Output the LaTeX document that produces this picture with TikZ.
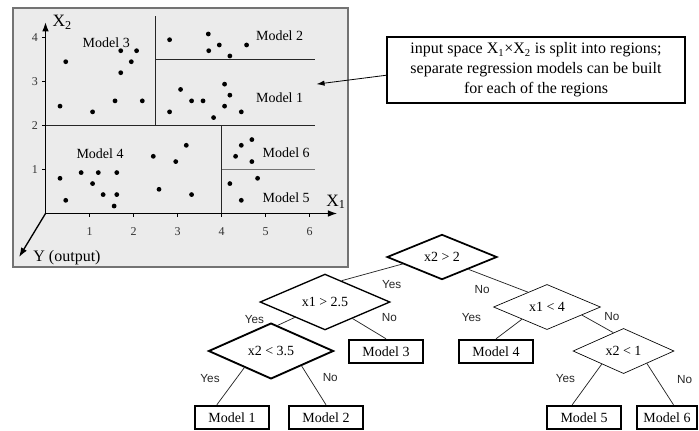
\documentclass[tikz,border=0pt]{standalone}
\usepackage{fontspec}
\setmainfont{Liberation Serif}
\newfontfamily\yesnofont{Liberation Sans}
\usetikzlibrary{
	arrows.meta,
	positioning,
	shapes.geometric
}

\begin{document}
\begin{tikzpicture}[
		x=0.75pt, y=-0.75pt,
		panel/.style={draw=black!55, line width=1pt, fill=black!8},
		axisarrow/.style={line width=1pt, -{Latex[length=7pt,width=5pt]}},
		cutline/.style={line width=0.7pt, black!85},
		plotdot/.style={fill=black},
		region/.style={font=\fontsize{10.5}{12}\selectfont},
		axtick/.style={font=\fontsize{9}{10}\selectfont, text=black!80, inner sep=1pt},
		axname/.style={font=\fontsize{13}{14}\selectfont, inner sep=0pt},
		notebox/.style={draw, line width=0.9pt, align=center, inner sep=0pt, minimum width=223.5pt, minimum height=49.5pt, font=\fontsize{12}{15}\selectfont},
		ask/.style={draw, diamond, inner sep=0pt, font=\fontsize{10.5}{12}\selectfont},
		leaf/.style={draw, line width=1.6pt, inner sep=0pt, minimum width=55pt, minimum height=17.5pt, font=\fontsize{10.5}{12}\selectfont},
		branch/.style={line width=0.55pt, black!85},
		lbl/.style={font=\yesnofont\fontsize{8.8}{10}\selectfont, inner sep=0pt}
		]
		\useasboundingbox (0,0) rectangle (699,430);
		
		% Input space panel
		\draw[panel] (13,8) rectangle (348,267);
		\begin{scope}[shift={(45.5,213.5)}, x=33pt, y=33pt]
			\coordinate (o) at (0,0);
			\coordinate (x1end) at (6.63,0);
			\coordinate (x2end) at (0,4.35);
			\coordinate (yend) at (-0.6,-0.99);
			\coordinate (m1pt) at (6.16,2.94);
			
			% region borders
			\draw[cutline] (0,2) -- (6.12,2);
			\draw[cutline] (2.5,2) -- (2.5,4.5);
			\draw[cutline] (2.5,3.5) -- (6.12,3.5);
			\draw[cutline] (4,0) -- (4,2);
			\draw[line width=0.5pt, black!55] (4,1) -- (6.12,1);
			
			% data points
			\foreach \p in {(0.46,3.45),(0.33,2.44),(1.07,2.31),(1.58,2.56),(2.20,2.56),(1.71,3.20),(1.71,3.70),(2.07,3.70),(1.95,3.45),
				(2.82,3.95),(3.70,4.08),(3.95,3.83),(3.71,3.70),(4.19,3.58),(4.57,3.83),
				(3.07,2.82),(3.32,2.56),(3.58,2.56),(4.07,2.94),(4.19,2.69),(4.07,2.44),(4.45,2.31),(2.82,2.31),(3.82,2.18),
				(0.33,0.80),(0.46,0.30),(0.81,0.93),(1.07,0.68),(1.20,0.93),(1.62,0.93),(1.31,0.43),(1.62,0.43),(1.56,0.17),
				(2.45,1.30),(2.96,1.18),(3.20,1.55),(2.58,0.55),(3.32,0.43),
				(4.45,1.55),(4.69,1.68),(4.32,1.30),(4.69,1.18),(4.19,0.68),(4.82,0.80),(4.45,0.30)}
			\fill[plotdot] \p circle (1.8pt);
			
			% axes
			\draw[axisarrow] (o) -- (x1end);
			\draw[axisarrow] (o) -- (x2end);
			\draw[axisarrow] (o) -- (yend);
			\foreach \i in {1,...,6} {
				\draw[line width=0.5pt] (\i,0) -- (\i,-0.07);
				\node[axtick] (tx\i) at (\i,-0.42) {\i};
			}
			\foreach \j in {1,...,4} {
				\draw[line width=0.5pt] (0,\j) -- (-0.07,\j);
				\node[axtick] (ty\j) at (-0.24,\j) {\j};
			}
			\node[axname] (x2name) at (0.38,4.35) {X\textsubscript{2}};
			\node[axname] (x1name) at (6.6,0.26) {X\textsubscript{1}};
			\node[axname, anchor=west, font=\fontsize{12}{13}\selectfont] (yname) at (-0.28,-1.01) {Y (output)};
			
			% region names
			\node[region] (reg3) at (1.38,3.88) {Model 3};
			\node[region] (reg2) at (5.32,4.05) {Model 2};
			\node[region] (reg1) at (5.32,2.64) {Model 1};
			\node[region] (reg4) at (1.24,1.36) {Model 4};
			\node[region] (reg6) at (5.47,1.38) {Model 6};
			\node[region] (reg5) at (5.47,0.36) {Model 5};
		\end{scope}
		
		% Comment box
		\node[notebox] (note) at (536,70) {
			input space X\textsubscript{1}×X\textsubscript{2} is split into regions;\\
			separate regression models can be built\\
			for each of the regions
		};
		\draw[line width=0.6pt, -{Latex[length=6pt,width=4pt]}] (note.182) -- (m1pt);
		
		% Regression tree
		\node[ask, line width=1.3pt, minimum width=82.5pt, minimum height=33pt] (root) at (442,257) {x2 > 2};
		\node[ask, line width=1pt, minimum width=97.5pt, minimum height=33pt, on grid, below left=33.75pt and 87.75pt of root] (c1) {x1 > 2.5};
		\node[ask, line width=1.4pt, minimum width=93.75pt, minimum height=33pt, on grid, below left=36.75pt and 40.5pt of c1] (c2) {x2 < 3.5};
		\node[leaf, on grid, below right=37.1pt and 45.75pt of c1] (m3) {Model 3};
		\node[leaf, on grid, below left=49.9pt and 29.25pt of c2] (m1) {Model 1};
		\node[leaf, on grid, below right=49.9pt and 41.25pt of c2] (m2) {Model 2};
		\node[ask, line width=0.5pt, minimum width=80.25pt, minimum height=32.25pt, on grid, below right=37.5pt and 78.75pt of root] (r1) {x1 < 4};
		\node[leaf, on grid, below left=33.4pt and 38.25pt of r1] (m4) {Model 4};
		\node[ask, line width=0.5pt, minimum width=75.75pt, minimum height=32.25pt, on grid, below right=33pt and 57.4pt of r1] (r2) {x2 < 1};
		\node[leaf, on grid, below left=49.9pt and 29.6pt of r2] (m5) {Model 5};
		\node[leaf, minimum width=45.5pt, on grid, below right=49.9pt and 32.6pt of r2] (m6) {Model 6};
		
		% Branches
		\draw[branch] (root.190) -- node[lbl, pos=.18, yshift=-13pt]{Yes} (c1.52);
		\draw[branch] (root.335) -- node[lbl, pos=.23, yshift=-11pt]{No} (r1.142);
		\draw[branch] (c1.207) -- node[lbl, pos=.25, xshift=-27pt]{Yes} (c2.75);
		\draw[branch] (c1.329) -- node[lbl, pos=.5, xshift=15pt, yshift=8pt]{No} (m3.north);
		\draw[branch] (c2.212) -- node[lbl, pos=.3, xshift=-19.5pt]{Yes} (m1.140);
		\draw[branch] (c2.334) -- node[lbl, pos=.3, xshift=16pt]{No} (m2.north);
		\draw[branch] (r1.206) -- node[lbl, pos=.2, xshift=-34pt, yshift=4.4pt]{Yes} (m4.north);
		\draw[branch] (r1.347) -- node[lbl, pos=.4, xshift=13pt, yshift=4pt]{No} (r2.119);
		\draw[branch] (r2.211) -- node[lbl, pos=.35, xshift=-19.5pt]{Yes} (m5.133);
		\draw[branch] (r2.332) -- node[lbl, pos=.4, xshift=20.4pt]{No} (m6.63);
		
	\end{tikzpicture}
\end{document}
